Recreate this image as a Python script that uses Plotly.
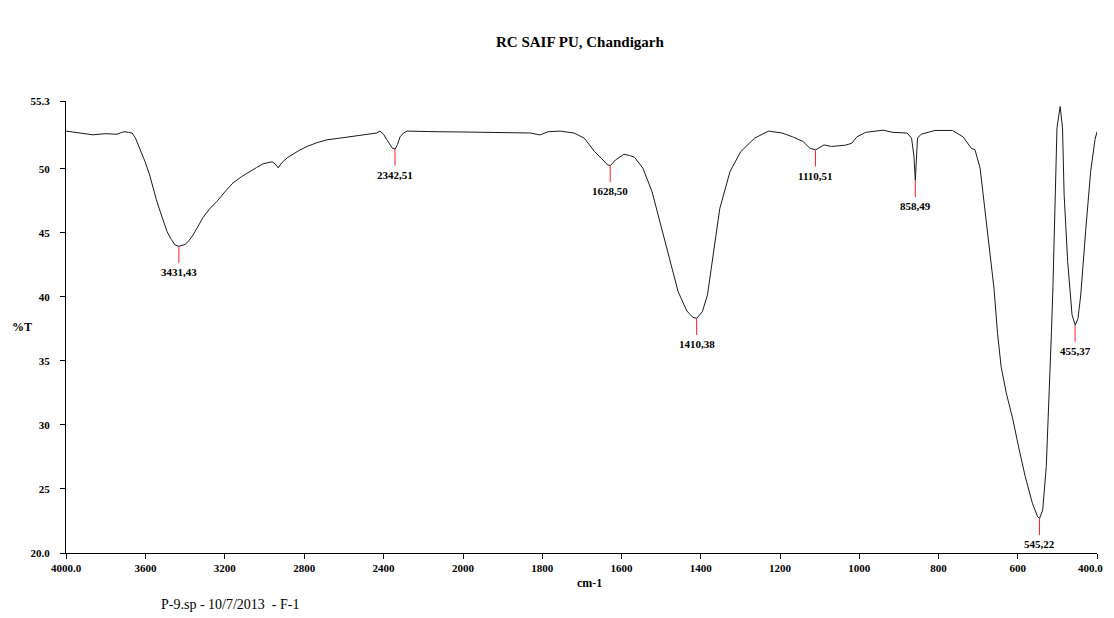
import plotly.graph_objects as go

wavenumber = [4000, 3950, 3900, 3864, 3800, 3743, 3720, 3703, 3685, 3667, 3650, 3637, 3620, 3602,
              3580, 3562, 3545, 3526, 3510, 3491, 3470, 3451, 3431, 3415, 3400, 3380, 3360, 3335,
              3310, 3275, 3240, 3200, 3159, 3115, 3073, 3040, 3007, 2980, 2962, 2947, 2931, 2912,
              2882, 2830, 2786, 2735, 2685, 2620, 2569, 2520, 2468, 2435, 2418, 2400, 2385, 2370,
              2355, 2342, 2330, 2317, 2300, 2282, 2200, 2131, 2000, 1939, 1880, 1830, 1806, 1785,
              1755, 1720, 1694, 1668, 1650, 1635, 1628, 1615, 1594, 1580, 1567, 1546, 1523, 1501,
              1479, 1457, 1435, 1420, 1410, 1396, 1383, 1369, 1352, 1326, 1299, 1264, 1229, 1195,
              1168, 1142, 1124, 1110, 1089, 1070, 1054, 1035, 1019, 1006, 984, 940, 915, 879, 868,
              862, 858.5, 855, 853, 844, 809, 765, 738, 717, 708, 695, 677, 660, 651, 642, 629, 612,
              598, 581, 563, 550, 545, 537, 528, 521, 515, 511, 506, 501, 493, 487, 483, 474, 463,
              455, 448, 441, 428, 416, 405, 400]
transmittance = [52.95, 52.85, 52.7, 52.66, 52.75, 52.7, 52.85, 52.9, 52.85, 52.8, 52.4, 51.9, 51.3, 50.57,
                 49.6, 48.5, 47.6, 46.7, 45.9, 45.1, 44.5, 44.06, 43.95, 44.0, 44.1, 44.4, 44.84, 45.5,
                 46.2, 46.9, 47.45, 48.2, 48.9, 49.4, 49.76, 50.1, 50.4, 50.5, 50.55, 50.4, 50.08, 50.5,
                 50.9, 51.4, 51.75, 52.05, 52.27, 52.4, 52.5, 52.6, 52.7, 52.8, 52.95, 52.7, 52.3, 51.9,
                 51.6, 51.55, 51.9, 52.5, 52.8, 52.95, 52.9, 52.9, 52.88, 52.85, 52.85, 52.8, 52.65, 52.9,
                 52.95, 52.8, 52.4, 51.35, 50.8, 50.3, 50.26, 50.7, 51.14, 51.05, 50.9, 50.05, 48.23, 45.6,
                 43.0, 40.4, 38.9, 38.4, 38.33, 38.85, 40.16, 43.3, 46.9, 49.8, 51.35, 52.4, 52.95, 52.8,
                 52.5, 52.14, 51.6, 51.48, 51.87, 51.75, 51.8, 51.85, 52.0, 52.5, 52.85, 53.02, 52.85, 52.8, 52.4,
                 51.0, 49.1, 51.5, 52.4, 52.7, 53.0, 53.0, 52.5, 51.6, 51.5, 50.05, 45.36, 40.68, 37.16, 34.55, 32.5, 30.39,
                 28.3, 25.96, 23.88, 22.84, 22.7, 23.36, 26.74, 31.95, 37.2, 41.0, 48.0, 53.2, 54.87, 53.2, 48.0, 42.76, 38.6,
                 37.8, 38.3, 40.16, 45.4, 49.8, 52.3, 52.9]

peak_wn = [3431.43, 2342.51, 1628.50, 1410.38, 1110.51, 858.49, 545.22, 455.37]
peak_T = [43.95, 51.55, 50.26, 38.33, 51.48, 49.1, 22.7, 37.8]
peak_labels = ["3431,43", "2342,51", "1628,50", "1410,38", "1110,51", "858,49", "545,22", "455,37"]

x_ticks_high = [4000, 3600, 3200, 2800, 2400]
x_ticks_high_text = ["4000.0", "3600", "3200", "2800", "2400"]
x_ticks_low = [2000, 1800, 1600, 1400, 1200, 1000, 800, 600, 400]
x_ticks_low_text = ["2000", "1800", "1600", "1400", "1200", "1000", "800", "600", ""]
x_end_value = 400
x_end_label = "400.0"
y_ticks = [20, 25, 30, 35, 40, 45, 50, 55.3]
y_ticks_text = ["20.0", "25", "30", "35", "40", "45", "50", "55.3"]

SPLIT = 2000
DROP = 1.3
SERIF = "Liberation Serif"
Y_MIN, Y_MAX = 20, 55.3

hi = [(w, t) for w, t in zip(wavenumber, transmittance) if w >= SPLIT]
lo = [(w, t) for w, t in zip(wavenumber, transmittance) if w <= SPLIT]

fig = go.Figure()
fig.add_trace(go.Scatter(x=[p[0] for p in hi], y=[p[1] for p in hi], mode="lines",
                         line=dict(color="#1a1a1a", width=1), xaxis="x", yaxis="y",
                         showlegend=False, hoverinfo="skip"))
fig.add_trace(go.Scatter(x=[p[0] for p in lo], y=[p[1] for p in lo], mode="lines",
                         line=dict(color="#1a1a1a", width=1), xaxis="x2", yaxis="y",
                         showlegend=False, hoverinfo="skip"))

annotations = []
for w, t, lab in zip(peak_wn, peak_T, peak_labels):
    ax = "x" if w > SPLIT else "x2"
    fig.add_trace(go.Scatter(x=[w, w], y=[t, t - DROP], mode="lines",
                             line=dict(color="#ff2020", width=1), xaxis=ax, yaxis="y",
                             showlegend=False, hoverinfo="skip"))
    annotations.append(dict(x=w, y=t - DROP, xref=ax, yref="y", text=lab, showarrow=False,
                            yanchor="top", xanchor="center", yshift=-1,
                            font=dict(family=SERIF, size=11, color="black", weight="bold")))

tick_font = dict(family=SERIF, size=11, color="black", weight="bold")
annotations += [
    dict(x=x_end_value, y=Y_MIN, xref="x2", yref="y", text=x_end_label, showarrow=False,
         xanchor="right", yanchor="middle", xshift=8, yshift=-15, font=tick_font),
    dict(x=0.4985, y=1.13, xref="paper", yref="paper", text="<b>RC SAIF PU, Chandigarh</b>",
         showarrow=False, xanchor="center", yanchor="middle",
         font=dict(family=SERIF, size=15, color="black")),
    dict(x=-0.0427, y=0.5, xref="paper", yref="paper", text="<b>%T</b>",
         showarrow=False, xanchor="center", yanchor="middle",
         font=dict(family=SERIF, size=12, color="black")),
    dict(x=0.508, y=-0.066, xref="paper", yref="paper", text="<b>cm-1</b>",
         showarrow=False, xanchor="center", yanchor="middle",
         font=dict(family=SERIF, size=12, color="black")),
    dict(x=0.159, y=-0.115, xref="paper", yref="paper", text="P-9.sp - 10/7/2013  - F-1",
         showarrow=False, xanchor="center", yanchor="middle",
         font=dict(family=SERIF, size=14, color="black")),
]

axis_common = dict(showline=True, linecolor="black", linewidth=1, ticks="outside",
                   ticklen=5, tickcolor="black", showgrid=False, zeroline=False,
                   tickfont=tick_font, tickmode="array", automargin=False)

split_frac = 397 / 1031
fig.update_layout(
    width=1114, height=618,
    margin=dict(l=58, r=25, t=93, b=73),
    paper_bgcolor="white", plot_bgcolor="white",
    xaxis=dict(domain=[0, split_frac], range=[4000, SPLIT], tickvals=x_ticks_high,
               ticktext=x_ticks_high_text, anchor="y", **axis_common),
    xaxis2=dict(domain=[split_frac, 1], range=[SPLIT, 400], tickvals=x_ticks_low,
                ticktext=x_ticks_low_text, anchor="y", **axis_common),
    yaxis=dict(range=[Y_MIN, Y_MAX], tickvals=y_ticks, ticktext=y_ticks_text,
               anchor="x", ticklabelstandoff=8, **axis_common),
    annotations=annotations,
    showlegend=False,
)

fig.write_html("out.html")
